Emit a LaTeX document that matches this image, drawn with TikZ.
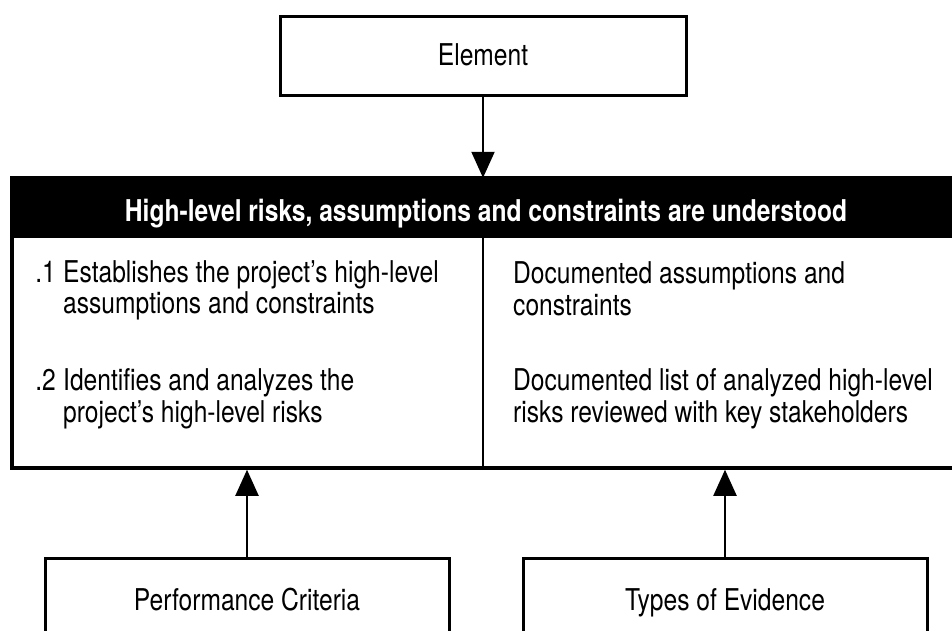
\documentclass[tikz,border=0pt]{standalone}
\usepackage{fontspec}
\setmainfont{TeX Gyre Heros}[FakeStretch=0.82]
\usepackage{tikz}
\usetikzlibrary{arrows.meta}

\tikzset{
  box/.style={draw, line width=3.5pt, inner sep=0pt, anchor=base},
  txt/.style={inner sep=0pt, anchor=base west},
  num/.style={inner sep=0pt, anchor=base east},
  link/.style={line width=2pt, -{Triangle[length=26pt, width=23pt]}}
}

\begin{document}
\fontsize{30}{31}\selectfont
\begin{tikzpicture}[x=1pt, y=-1pt]
\useasboundingbox (0,0) rectangle (952,630);
\clip (0,0) rectangle (952,630);
%NODI
\node[box, line width=3pt, minimum width=406pt, text height=49pt, text depth=30pt] (elem) at (483,65) {Element};
\node[draw, line width=3.5pt, minimum width=950pt, minimum height=290pt] (body) at (487,323) {};
\node[fill=black, text=white, inner sep=0pt, anchor=base, minimum width=952pt, text height=43pt, text depth=17pt, font=\bfseries] (head) at (486,221) {High-level risks, assumptions and constraints are understood};
\node[box, line width=3pt, minimum width=404pt, text height=52pt, text depth=60pt] (crit) at (247,610) {Performance Criteria};
\node[box, line width=3pt, minimum width=404pt, text height=52pt, text depth=60pt] (evid) at (725,610) {Types of Evidence};
% CRITERI
\node[num] (c1n) at (56,282) {.1};
\node[txt] (c1a) at (63,282) {Establishes the project’s high-level};
\node[txt] (c1b) at (63,313) {assumptions and constraints};
\node[num] (c2n) at (56,390) {.2};
\node[txt] (c2a) at (63,390) {Identifies and analyzes the};
\node[txt] (c2b) at (63,422) {project’s high-level risks};
% EVIDENZE
\node[txt] (e1a) at (513,283) {Documented assumptions and};
\node[txt] (e1b) at (513,315) {constraints};
\node[txt] (e2a) at (513,390) {Documented list of analyzed high-level};
\node[txt] (e2b) at (513,422) {risks reviewed with key stakeholders};
% LINEE
\draw[line width=1.2pt] (elem.south |- head.south) -- (elem.south |- body.south);
\draw[link] (elem) -- (elem.south |- head.north);
\draw[link] (crit.north) -- (crit.north |- body.south);
\draw[link] (evid.north) -- (evid.north |- body.south);
\end{tikzpicture}
\end{document}
